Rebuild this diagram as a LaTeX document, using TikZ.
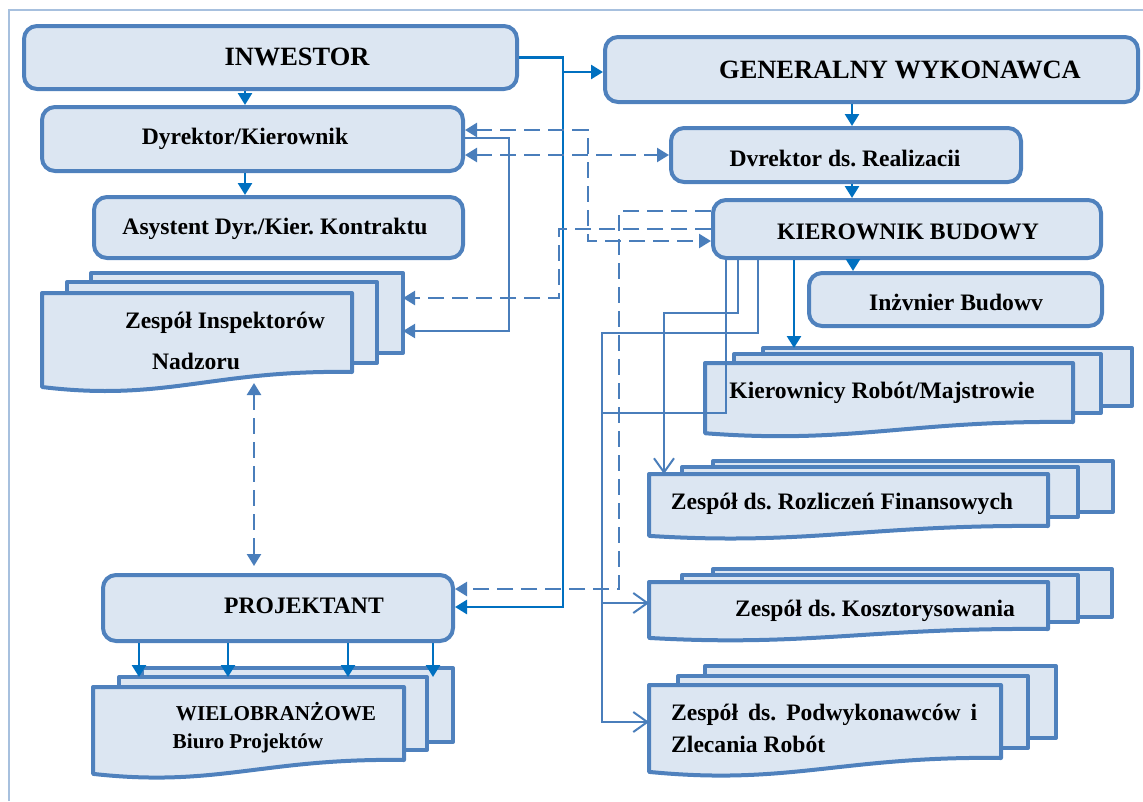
\documentclass[tikz,border=0pt]{standalone}
\usepackage{fontspec}
\setmainfont{Liberation Serif}
\usetikzlibrary{arrows.meta,fit}

\definecolor{boxline}{HTML}{4F81BD}
\definecolor{boxfill}{HTML}{DCE6F2}
\definecolor{mainblue}{HTML}{0070C0}
\definecolor{linkblue}{HTML}{4A7EBB}
\definecolor{framecol}{HTML}{A7C0DE}

\newcommand{\bigtxt}{\fontsize{26.4}{30}\selectfont\bfseries}
\newcommand{\midtxt}{\fontsize{23.6}{28}\selectfont\bfseries}
\newcommand{\smalltxt}{\fontsize{21.2}{25}\selectfont\bfseries}

% plain sheet lying behind the front one of a stack
\newcommand{\backsheet}[4]{\draw[sheetline] (#1,#2) rectangle (#3,#4);}
% front sheet of a stack, with a wavy lower edge
\newcommand{\docfront}[4]{%
  \draw[sheetline] (#1,#2) -- (#3,#2) -- (#3,#4)
    .. controls ({#1+0.55*(#3-#1)},{#4-0.03*(#4-#2)}) and ({#1+0.40*(#3-#1)},{#4+0.38*(#4-#2)})
    .. (#1,{#4+0.19*(#4-#2)}) -- cycle;}

\tikzset{
  rbox/.style={draw=boxline, fill=boxfill, line width=4pt, rounded corners=13pt, inner sep=0pt},
  sheetline/.style={draw=boxline, fill=boxfill, line width=4pt, line join=round},
  area/.style={inner sep=0pt, outer sep=0pt},
  lbl/.style={inner sep=0pt, anchor=base, text=black},
  solidtip/.tip={Triangle[length=12pt,width=14pt]},
  opentip/.tip={Straight Barb[length=14pt,width=20pt]},
  mainarrow/.style={draw=mainblue, line width=2.6pt, -solidtip},
  thinlink/.style={draw=linkblue, line width=2pt},
  dashlink/.style={draw=linkblue, line width=2.4pt, dash pattern=on 16pt off 8pt},
}

\begin{document}
\frenchspacing
\begin{tikzpicture}[x=1pt, y=-1pt]
\useasboundingbox (0,0) rectangle (1143,801);

% outer frame
\draw[framecol, line width=1.5pt] (9,801) -- (9,10) -- (1143,10);

% rounded boxes
\node[rbox, fit={(24,26) (517,89)}]   (inw) {};
\node[rbox, fit={(42,107) (463,171)}] (dyr) {};
\node[rbox, fit={(94,197) (463,258)}] (asy) {};
\node[rbox, fit={(605,37) (1138,102)}] (gw) {};
\node[rbox, fit={(671,128) (1021,182)}] (ddr) {};
\node[rbox, fit={(713,200) (1101,258)}] (kb) {};
\node[rbox, fit={(809,273) (1102,326)}] (inz) {};
\node[rbox, fit={(103,575) (453,641)}] (prj) {};

% stacked document groups
\backsheet{91}{273}{403}{353}
\backsheet{67}{282}{377}{363}
\docfront{42}{293}{352}{372}
\node[area, fit={(42,273) (403,383)}] (zin) {};

\backsheet{763}{348}{1132}{406}
\backsheet{734}{354}{1101}{413}
\docfront{705}{363}{1073}{422}
\node[area, fit={(705,348) (1132,433)}] (kr) {};

\backsheet{713}{461}{1113}{512}
\backsheet{682}{467}{1078}{517}
\docfront{649}{474}{1048}{526}
\node[area, fit={(649,474) (1048,537)}] (zrf) {};

\backsheet{713}{569}{1112}{617}
\backsheet{682}{575}{1078}{622}
\docfront{649}{582}{1048}{629}
\node[area, fit={(649,582) (1048,638)}] (kos) {};

\backsheet{705}{666}{1056}{738}
\backsheet{678}{676}{1028}{748}
\docfront{649}{685}{1001}{758}
\node[area, fit={(649,685) (1001,772)}] (pod) {};

\backsheet{142}{668}{453}{742}
\backsheet{119}{677}{427}{750}
\docfront{93}{687}{404}{760}
\node[area, fit={(93,677) (453,773)}] (wb) {};

% main lines of command
\coordinate (jog) at (563,72);
\coordinate (drop) at (563,607);
\draw[mainarrow] (inw.east) -| (jog) -- (jog -| gw.west);
\draw[mainarrow] (jog) -- (drop) -- (drop -| prj.east);
\draw[mainarrow] (inw.south -| 245,0) -- (dyr.north -| 245,0);
\draw[mainarrow] (dyr.south -| 245,0) -- (asy.north -| 245,0);
\draw[mainarrow] (gw.south -| 852,0) -- (ddr.north -| 852,0);
\draw[mainarrow] (ddr.south -| 852,0) -- (kb.north -| 852,0);
\draw[mainarrow] (kb.south -| 853,0) -- (inz.north -| 853,0);
\draw[mainarrow] (kb.south -| 794,0) -- (kr.north -| 794,0);
\foreach \px in {139,228,348,433}
  \draw[mainarrow] (prj.south -| \px,0) -- (wb.north -| \px,0);

% supervision links
\draw[thinlink, -solidtip] (dyr.east |- 0,138) -| (509,331) -- (zin.east |- 0,331);
\draw[dashlink, solidtip-solidtip] (dyr.east |- 0,130) -| (588,241) -- (kb.west |- 0,241);
\draw[dashlink, solidtip-solidtip] (dyr.east |- 0,155) -- (ddr.west |- 0,155);
\draw[dashlink, -solidtip] (kb.west |- 0,229) -| (559,298) -- (zin.east |- 0,298);
\draw[dashlink, -solidtip] (kb.west |- 0,211) -| (619,589) -- (prj.east |- 0,589);
\draw[dashlink, solidtip-solidtip, shorten >=7pt] (zin.south -| 254,0) -- (prj.north -| 254,0);

% site manager's teams
\coordinate (tap) at (602,603);
\draw[thinlink, -opentip] (kb.south -| 738,0) |- (664,313) -- (zrf.north -| 664,0);
\draw[thinlink, -opentip] (kb.south -| 758,0) |- (602,333) |- (pod.west |- 0,722);
\draw[thinlink, -opentip] (tap) -- (tap -| kos.west);
\draw[thinlink] (kb.south -| 726,0) |- (602,413);

% labels
\node[lbl] (inw-t) at (297,65) {\bigtxt INWESTOR};
\node[lbl] (gw-t) at (900,78) {\bigtxt GENERALNY WYKONAWCA};
\node[lbl] (dyr-t) at (245,144) {\midtxt Dyrektor/Kierownik};
\node[lbl] (asy-t) at (275,234) {\midtxt Asystent Dyr./Kier. Kontraktu};
\node[lbl] (ddr-t) at (845,166) {\midtxt Dvrektor ds. Realizacii};
\node[lbl] (kb-t) at (908,239) {\midtxt KIEROWNIK BUDOWY};
\node[lbl] (inz-t) at (956,310) {\midtxt Inżvnier Budowv};
\node[lbl] (kr-t) at (882,398) {\midtxt Kierownicy Robót/Majstrowie};
\node[lbl] (zrf-t) at (842,509) {\midtxt Zespół ds. Rozliczeń Finansowych};
\node[lbl] (kos-t) at (875,616) {\midtxt Zespół ds. Kosztorysowania};
\node[lbl, anchor=base west] (pod-t1) at (671,720) {\midtxt\makebox[306pt][s]{Zespół ds. Podwykonawców i}};
\node[lbl, anchor=base west] (pod-t2) at (671,752) {\midtxt Zlecania Robót};
\node[lbl] (zin-t1) at (225,328) {\midtxt Zespół Inspektorów};
\node[lbl] (zin-t2) at (196,369) {\midtxt Nadzoru};
\node[lbl] (prj-t) at (304,613) {\midtxt PROJEKTANT};
\node[lbl] (wb-t1) at (276,720) {\smalltxt WIELOBRANŻOWE};
\node[lbl] (wb-t2) at (248,748) {\smalltxt Biuro Projektów};
\end{tikzpicture}
\end{document}
